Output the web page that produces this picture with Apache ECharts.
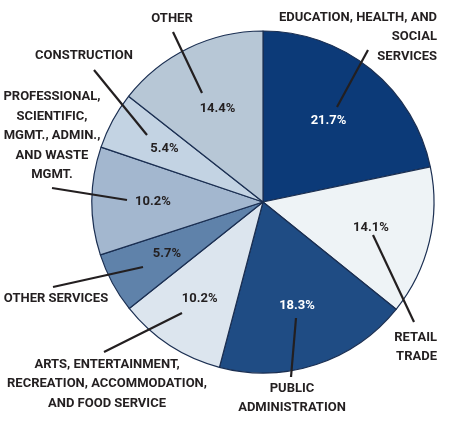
<!DOCTYPE html>
<html>
<head>
<meta charset="utf-8">
<title>Employment by industry</title>
<script src="https://cdn.jsdelivr.net/npm/echarts@6/dist/echarts.min.js"></script>
<style>
  html, body { margin: 0; padding: 0; background: #ffffff; }
  #chart { width: 461px; height: 423px; }
</style>
</head>
<body>
<div id="chart"></div>
<script>
// Industry shares, clockwise from 12 o'clock
const industries = [
  'EDUCATION, HEALTH, AND\nSOCIAL\nSERVICES',
  'RETAIL\nTRADE',
  'PUBLIC\nADMINISTRATION',
  'ARTS, ENTERTAINMENT,\nRECREATION, ACCOMMODATION,\nAND FOOD SERVICE',
  'OTHER SERVICES',
  'PROFESSIONAL,\nSCIENTIFIC,\nMGMT., ADMIN.,\nAND WASTE\nMGMT.',
  'CONSTRUCTION',
  'OTHER'
];
const shares = [21.7, 14.1, 18.3, 10.2, 5.7, 10.2, 5.4, 14.4];

const sliceColors = ['#0c3a78', '#eef3f6', '#1f4c84', '#dce5ee', '#5f82aa', '#a3b7cf', '#c3d3e3', '#b7c7d6'];
const pctColors   = ['#ffffff', '#231f20', '#ffffff', '#231f20', '#231f20', '#231f20', '#231f20', '#231f20'];

// Distance of each percentage label from the pie centre, in px
const pctDistance = [104, 111, 109, 116, 109, 110, 112, 104];

// Callout placement: text anchor, alignment, and leader line (outer end -> inner end)
const callouts = [
  { x: 437, y: 37,  align: 'right',  line: [[368, 50], [337, 107]] },
  { x: 437, y: 347, align: 'right',  line: [[414, 322], [373, 235]] },
  { x: 292, y: 398, align: 'center', line: [[291, 377], [296, 318]] },
  { x: 107, y: 384, align: 'center', line: [[104, 352], [182, 313]] },
  { x: 56,  y: 299, align: 'center', line: [[53, 287], [143, 267]] },
  { x: 52,  y: 136, align: 'center', line: [[52, 188], [127, 200]] },
  { x: 84,  y: 56,  align: 'center', line: [[94, 70], [147, 135]] },
  { x: 172, y: 19,  align: 'center', line: [[173, 32], [202, 93]] }
];

const FONT = "Roboto, 'Liberation Sans', sans-serif";
const CENTER = [263, 202];
const RADIUS = 171;
const clear = 'rgba(0,0,0,0)';

// mid-angle of each slice, measured clockwise from 12 o'clock
const total = shares.reduce((s, v) => s + v, 0);
const midAngles = [];
shares.reduce((acc, v) => {
  midAngles.push((acc + v / 2) / total * 2 * Math.PI);
  return acc + v;
}, 0);

const chart = echarts.init(document.getElementById('chart'), null, { renderer: 'canvas' });

const base = {
  type: 'pie',
  center: CENTER,
  startAngle: 90,
  clockwise: true,
  silent: true,
  emphasis: { disabled: true }
};

chart.setOption({
  animation: false,
  backgroundColor: '#ffffff',
  series: [
    Object.assign({}, base, {
      // the coloured slices
      radius: RADIUS,
      z: 1,
      data: industries.map((n, i) => ({
        name: n,
        value: shares[i],
        itemStyle: { color: sliceColors[i] }
      })),
      itemStyle: { borderColor: '#1b2f52', borderWidth: 1.2 },
      label: { show: false },
      labelLine: { show: false }
    }),
    Object.assign({}, base, {
      // percentage labels inside each slice
      radius: RADIUS,
      z: 3,
      data: shares.map((v, i) => ({
        name: industries[i],
        value: v,
        itemStyle: { color: clear },
        label: { color: pctColors[i] }
      })),
      itemStyle: { borderWidth: 0 },
      label: {
        show: true,
        position: 'inside',
        formatter: p => p.value.toFixed(1) + '%',
        fontFamily: FONT,
        fontWeight: 'bold',
        fontSize: 13
      },
      labelLine: { show: false },
      labelLayout: function (params) {
        const i = params.dataIndex;
        const a = midAngles[i], d = pctDistance[i];
        return {
          x: CENTER[0] + d * Math.sin(a),
          y: CENTER[1] - d * Math.cos(a),
          align: 'center',
          verticalAlign: 'middle'
        };
      }
    }),
    Object.assign({}, base, {
      // industry names with leader lines
      radius: RADIUS,
      z: 4,
      data: industries.map((n, i) => ({
        name: n,
        value: shares[i],
        itemStyle: { color: clear }
      })),
      itemStyle: { borderWidth: 0 },
      label: {
        show: true,
        position: 'outside',
        formatter: '{b}',
        overflow: 'none',
        color: '#231f20',
        fontFamily: FONT,
        fontWeight: 'bold',
        fontSize: 13,
        lineHeight: 19.5
      },
      labelLine: {
        show: true,
        lineStyle: { color: '#231f20', width: 2.2 }
      },
      labelLayout: function (params) {
        const c = callouts[params.dataIndex];
        const a = c.line[0], b = c.line[1];
        return {
          x: c.x,
          y: c.y,
          align: c.align,
          verticalAlign: 'middle',
          labelLinePoints: [a, [(a[0] + b[0]) / 2, (a[1] + b[1]) / 2], b]
        };
      }
    })
  ]
});
</script>
</body>
</html>
